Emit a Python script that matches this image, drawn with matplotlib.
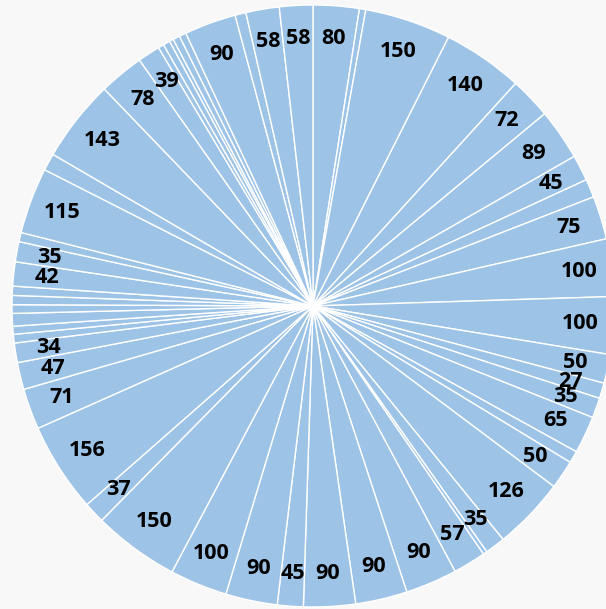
import matplotlib.pyplot as plt

# slice values, clockwise from 12 o'clock
values = [80, 11, 150, 140, 72, 89, 45, 32, 75, 100, 100, 50, 27, 35, 65, 21,
          50, 126, 35, 7, 57, 90, 90, 90, 45, 90, 100, 150, 37, 156, 71, 47,
          34, 15, 14, 22, 15, 16, 16, 42, 35, 16, 115, 30, 143, 78, 39, 10,
          12, 7, 12, 12, 90, 19, 58, 58]
# which slices get a value label
shown = [1, 0, 1, 1, 1, 1, 1, 0, 1, 1, 1, 1, 1, 1, 1, 0,
         1, 1, 1, 0, 1, 1, 1, 1, 1, 1, 1, 1, 1, 1, 1, 1,
         1, 0, 0, 0, 0, 0, 0, 1, 1, 0, 1, 0, 1, 1, 1, 0,
         0, 0, 0, 0, 1, 0, 1, 1]

labels = [str(v) if s else '' for v, s in zip(values, shown)]

fig = plt.figure(figsize=(6.06, 6.09), dpi=100, facecolor='#f8f8f8')
ax = fig.add_axes([12 / 606, 2 / 609, 602 / 606, 602 / 609])
ax.set_facecolor('#f8f8f8')

wedges, texts = ax.pie(values, labels=labels, startangle=90, counterclock=False,
                       colors=['#9dc3e6'] * len(values), labeldistance=0.89,
                       wedgeprops=dict(edgecolor='white', linewidth=1.0),
                       textprops=dict(fontsize=15.5, fontweight='bold',
                                      family='Open Sans', color='black'))
for t in texts:
    t.set_horizontalalignment('center')
    t.set_verticalalignment('center')

ax.set_xlim(-1, 1)
ax.set_ylim(-1, 1)
ax.set_aspect('equal')
ax.axis('off')

fig.savefig('out.png', dpi=100, facecolor=fig.get_facecolor())
